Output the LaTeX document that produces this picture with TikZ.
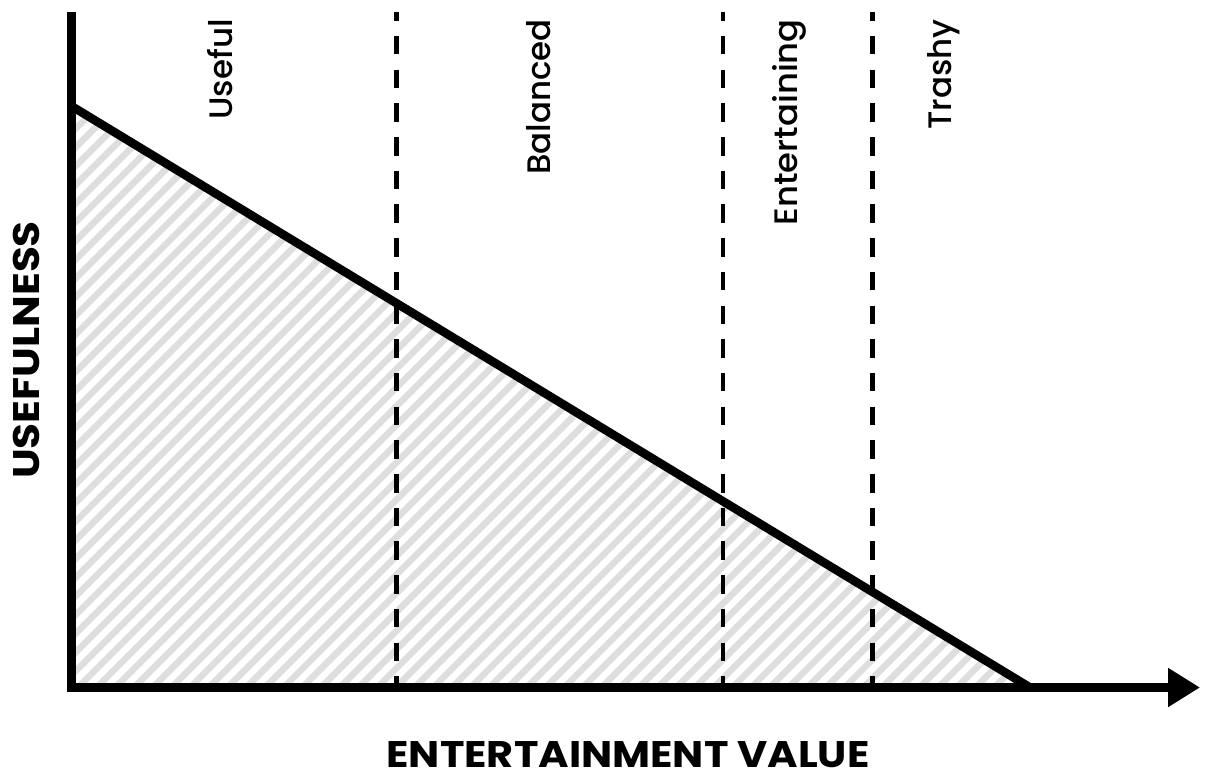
\documentclass[tikz,border=0pt]{standalone}
\usepackage{fontspec}
\setmainfont{Poppins}
\IfFontExistsTF{Poppins Medium}{\newfontfamily\zonefont{Poppins Medium}}{\newfontfamily\zonefont{Poppins}}
\usetikzlibrary{arrows.meta}

\definecolor{hatchgray}{RGB}{222,222,222}

\tikzset{
	axisline/.style={line width=8.6pt, line join=miter},
	slopeline/.style={line width=8.6pt},
	divider/.style={line width=4.5pt, dash pattern=on 18.5pt off 15.2pt, dash phase=9.4pt},
	hatchline/.style={hatchgray, line width=6.5pt},
	zonelabel/.style={rotate=90, anchor=base east, inner sep=0pt, font=\zonefont\fontsize{32.5}{38}\selectfont},
	axislabel/.style={inner sep=0pt, font=\fontsize{37}{44}\selectfont\bfseries},
}

\begin{document}
\begin{tikzpicture}[x=1pt, y=1pt]
	\useasboundingbox (0,0) rectangle (1206,771);
	
	\coordinate (origin) at (71.3,83.5);
	\coordinate (ytop) at (71.3,759.3);
	\coordinate (xtip) at (1200,83.5);
	\coordinate (hi) at (71.3,665);
	\coordinate (lo) at (1030,83.5);
	
	% hatched area under the line
	\begin{scope}
		\clip (hi) -- (origin) -- (lo) -- cycle;
		\foreach \k in {-30,...,53}
			\draw[hatchline] ({-43+18.7*\k},0) -- ++(800,800);
	\end{scope}
	
	% zone borders
	\foreach \name/\xpos in {one/396.7, two/723, three/872.5} {
		\coordinate (\name top) at (\xpos,759.3);
		\coordinate (\name bot) at (\xpos,83.5);
		\draw[divider] (\name top) -- (\name bot);
	}
	
	\draw[slopeline] (hi) -- (lo);
	\draw[axisline, -{Triangle[length=32pt, width=37pt]}] (ytop) -- (origin) -- (xtip);
	
	\node[zonelabel] (useful) at (232,752) {Useful};
	\node[zonelabel] (balanced) at (550,752) {Balanced};
	\node[zonelabel] (entertaining) at (797,752) {\scalebox{1.04}[1]{Entertaining}};
	\node[zonelabel] (trashy) at (951,752) {Trashy};
	
	\node[axislabel, rotate=90, anchor=base] (yname) at (39,421) {\scalebox{1.14}[1]{USEFULNESS}};
	\node[axislabel, anchor=base] (xname) at (628,4) {\scalebox{1.12}[1]{ENTERTAINMENT VALUE}};
\end{tikzpicture}
\end{document}
